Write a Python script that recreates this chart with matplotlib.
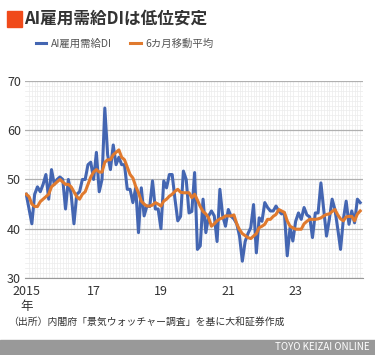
import matplotlib
matplotlib.use("Agg")
import matplotlib.pyplot as plt
from matplotlib.patches import Rectangle
from matplotlib.ticker import MultipleLocator

plt.rcParams['font.family'] = ['Noto Sans CJK JP', 'DejaVu Sans']

# monthly values, Jan 2015 - Dec 2024
ai_di = [47, 44, 41, 47, 48.5, 47.5, 49, 51, 46, 52, 49, 50,
         50.5, 50, 44, 50, 47, 41, 47, 47.5, 50, 50, 53, 53.5,
         50, 55.5, 47.5, 50, 64.5, 55, 52, 57, 53, 54.5, 53, 53,
         48, 48, 45.3, 48.3, 39.2, 48.3, 42.6, 44.6, 44.5, 49.7, 44, 44,
         40, 49.7, 48.3, 51, 51, 46, 41.6, 42.5, 51.7, 50, 43.2, 43.5,
         51.4, 35.8, 36.5, 46, 39.2, 42.6, 43.6, 42.6, 37.4, 48, 42.6, 40.5,
         43.9, 42.5, 42, 41, 38.5, 33.4, 37.4, 39, 40.2, 44.9, 35.1, 42.2,
         41.5, 45.3, 44.3, 43.6, 43.6, 44.6, 43.6, 43, 43.2, 34.5, 40.2, 37.5,
         41.5, 43.2, 41.9, 44.3, 42.8, 42.4, 38.2, 43.2, 43.2, 49.3, 43.9, 38.5,
         41.9, 46, 43.9, 40, 35.8, 41.9, 45.6, 40.9, 43.6, 41.2, 46, 45.3]

ma6 = [47, 46.5, 45, 44.5, 44.5, 45.5, 46, 46.5, 47, 48.5, 49, 49.5,
       50, 49.5, 49, 49, 48.5, 47.5, 46.5, 46, 47, 47.5, 49, 50.5,
       51.5, 52, 51.5, 51.5, 53.5, 54, 54, 55, 55.5, 56, 54.5, 54,
       52.5, 51, 50.3, 48.6, 47.3, 45.6, 45, 44.6, 44.6, 44.8, 45.3, 45,
       44.6, 45.6, 46, 46.6, 47, 47.6, 48, 47.4, 47.3, 47.3, 47.3, 46.3,
       47, 45.8, 44.5, 43.5, 43, 42.2, 40.5, 41, 41.6, 42, 42.2, 42.6,
       42.6, 42.6, 42.8, 41, 39.8, 39, 38.6, 38.2, 38, 38.5, 39, 40.2,
       40.5, 40.9, 41.9, 41.9, 42.5, 42.9, 43.9, 43.6, 43.3, 41.6, 40.5, 40.2,
       39.9, 39.9, 39.9, 41, 41.5, 41.9, 41.9, 41.9, 42, 42.2, 42.6, 42.9,
       43, 43.5, 43.9, 42.8, 42, 41.6, 42.4, 42.5, 42.5, 41.6, 43, 43.6]

months = list(range(len(ai_di)))
tick_pos = [0, 24, 48, 72, 96]
tick_labels = ["2015\n年", "17", "19", "21", "23"]
y_ticks = [30, 40, 50, 60, 70]

fig = plt.figure(figsize=(3.75, 3.55), dpi=100)
ax = fig.add_axes([0.067, 0.217, 0.901, 0.555])

ax.plot(months, ai_di, color='#4466B2', lw=2.2, label='AI雇用需給DI', zorder=3)
ax.plot(months, ma6, color='#E07A2E', lw=2.2, label='6カ月移動平均', zorder=4)

ax.set_xlim(-0.4, 120)
ax.set_ylim(30, 70)
ax.set_xticks(tick_pos)
ax.set_xticklabels(tick_labels, fontsize=9, color='#333333', linespacing=1.25)
ax.set_yticks(y_ticks)
ax.set_yticklabels([str(v) for v in y_ticks], fontsize=9, color='#333333')
ax.xaxis.set_minor_locator(MultipleLocator(1))
ax.yaxis.set_minor_locator(MultipleLocator(1))
ax.tick_params(which='both', length=0)
ax.tick_params(axis='x', pad=5)
ax.tick_params(axis='y', pad=3)
ax.grid(which='minor', color='#ececec', lw=0.5)
ax.grid(which='major', axis='y', color='#b0b0b0', lw=0.9)
ax.set_axisbelow(True)
for s in ['top', 'right', 'left']:
    ax.spines[s].set_visible(False)
ax.spines['bottom'].set_color('#999999')

fig.legend(loc='center left', bbox_to_anchor=(36 / 375, 1 - 44 / 355), ncol=2,
           frameon=False, fontsize=7.5, handlelength=1.0, handletextpad=0.4,
           columnspacing=1.8, labelcolor='#555555', borderaxespad=0,
           borderpad=0)

# title with square marker
fig.patches.append(Rectangle((7 / 375, 1 - 27 / 355), 15 / 375, 16 / 355,
                             transform=fig.transFigure, color='#F04A1A'))
fig.text(24 / 375, 1 - 19 / 355, "AI雇用需給DIは低位安定", fontsize=12,
         fontweight='bold', color='#333333', va='center', ha='left')

fig.text(8 / 375, 1 - 322 / 355, "（出所）内閣府「景気ウォッチャー調査」を基に大和証券作成",
         fontsize=7.1, color='#333333', va='center', ha='left')

# footer bar
fig.patches.append(Rectangle((0, 0), 1, 15 / 355, transform=fig.transFigure,
                             color='#999999'))
fig.text(370 / 375, 7.5 / 355, "TOYO KEIZAI ONLINE", fontsize=7, color='white',
         va='center', ha='right')

fig.savefig("out.png", dpi=100)
